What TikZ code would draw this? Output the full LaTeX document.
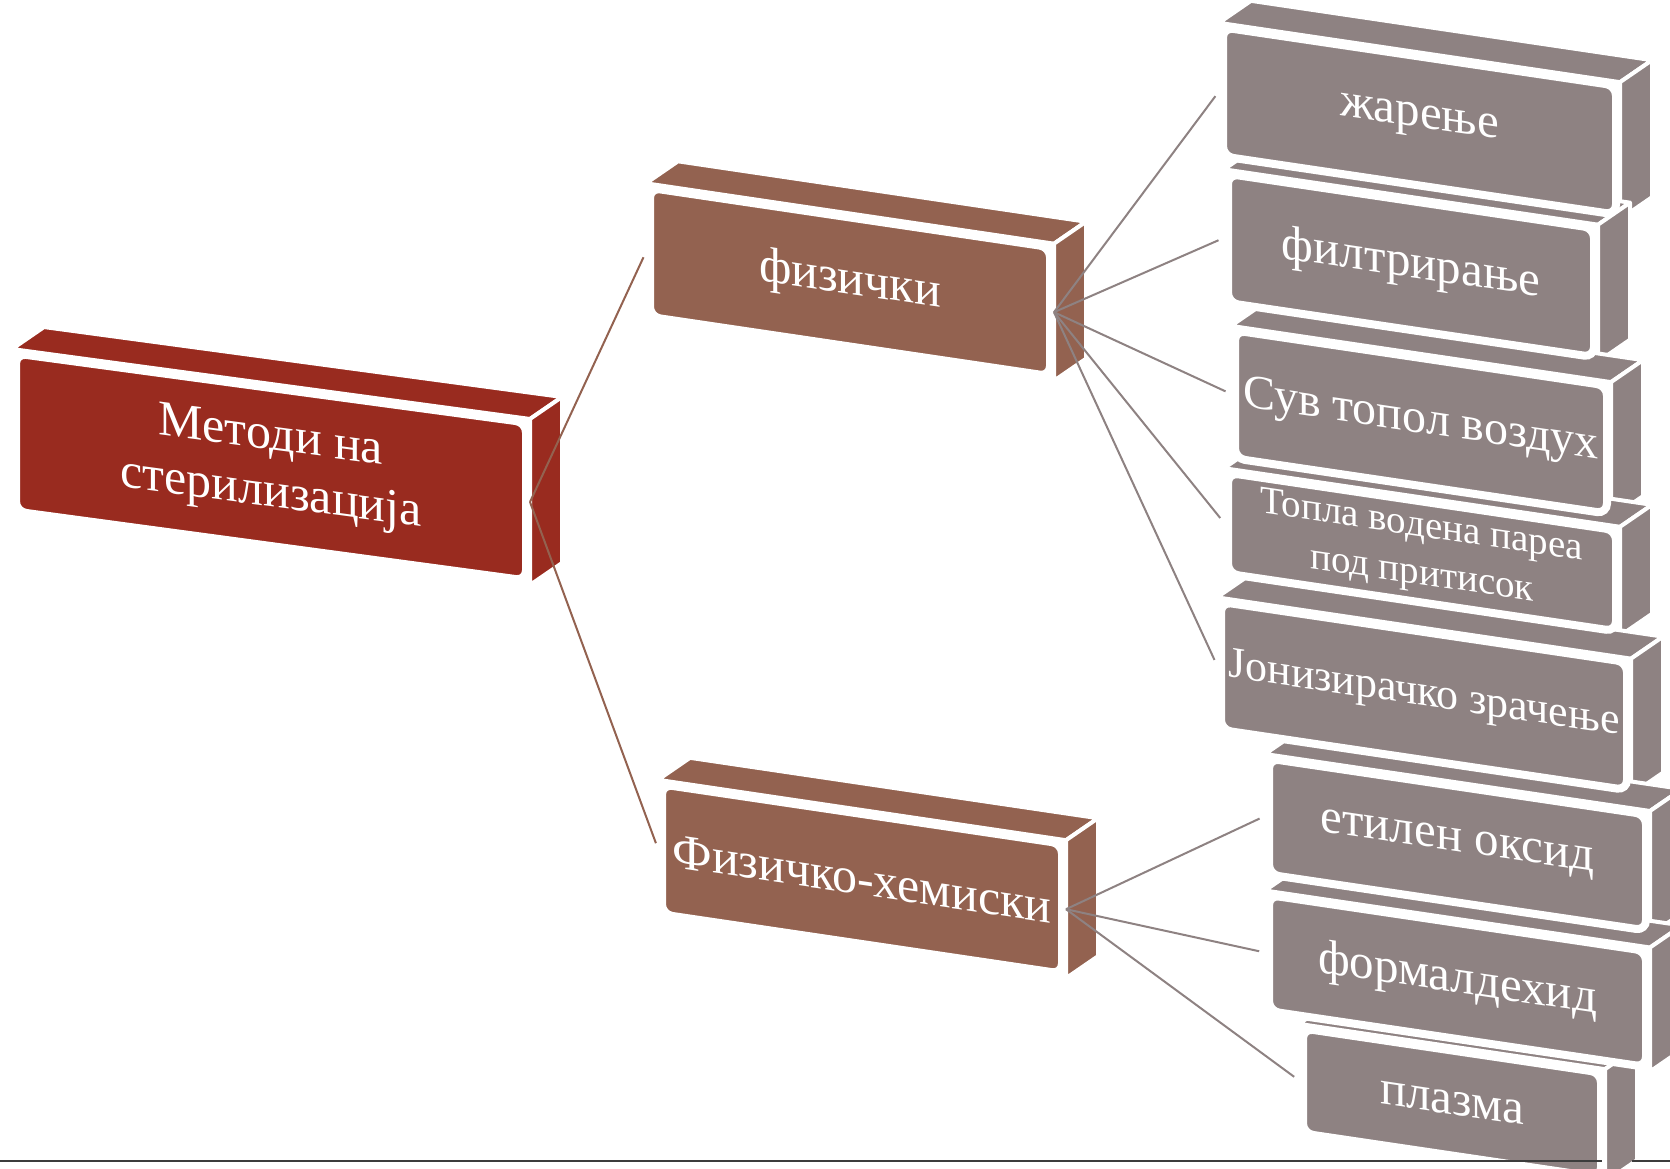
\documentclass[tikz,border=0pt]{standalone}
\usepackage{fontspec}
\setmainfont{Liberation Serif}
\usetikzlibrary{backgrounds, calc}
\definecolor{rootred}{RGB}{153,43,31}
\definecolor{levelbrown}{RGB}{147,98,80}
\definecolor{leafgrey}{RGB}{142,130,130}
\definecolor{ruleline}{RGB}{60,60,60}
\tikzset{
    front/.style={rectangle, rounded corners=5pt, draw=white, line width=4pt, text=white, inner sep=0pt, align=center},
    rootbox/.style={front, fill=rootred, yslant=-0.135, font=\fontsize{25}{28.5}\selectfont},
    midbox/.style={front, fill=levelbrown, yslant=-0.148, font=\fontsize{25}{30}\selectfont},
    leafbox/.style={front, fill=leafgrey, yslant=-0.148, font=\fontsize{24.5}{30}\selectfont},
    face/.style={draw=white, line width=2pt, line join=round},
    stemline/.style={draw=levelbrown, line width=1pt, shorten >=3pt},
    leafline/.style={draw=leafgrey, line width=1pt, shorten >=3pt},
}

\begin{document}
\begin{tikzpicture}[x=0.5pt, y=-0.5pt]
    \useasboundingbox (0,0) rectangle (1670,1168);

    % Nodes
    \node[rootbox, minimum width=255pt, minimum height=79pt] (root) at (271,467) {Методи на\\стерилизација};
    \node[midbox, minimum width=200pt, minimum height=64.5pt] (phys) at (850,282) {физички};
    \node[midbox, minimum width=200pt, minimum height=65pt] (chem) at (862,879) {Физичко-хемиски};

    \node[leafbox, minimum width=196.5pt, minimum height=64.5pt] (zar) at (1419.5,121) {жарење};
    \node[leafbox, minimum width=183pt, minimum height=64.5pt] (filt) at (1411,265.5) {филтрирање};
    \node[leafbox, minimum width=186pt, minimum height=64pt, font=\fontsize{24}{30}\selectfont] (suv) at (1421,422) {Сув топол воздух};
    \node[leafbox, minimum width=194pt, minimum height=50.5pt, font=\fontsize{19.5}{24}\selectfont] (topla) at (1422,552) {Топла водена пареа\\под притисок};
    \node[leafbox, minimum width=203pt, minimum height=64pt, font=\fontsize{22}{26}\selectfont] (jon) at (1424,696) {Јонизирачко зрачење};
    \node[leafbox, minimum width=188.5pt, minimum height=58pt] (etil) at (1457.5,844.5) {етилен оксид};
    \node[leafbox, minimum width=188.5pt, minimum height=58pt] (form) at (1457.5,981) {формалдехид};
    \node[leafbox, minimum width=149pt, minimum height=52.5pt] (plaz) at (1452,1103) {плазма};

    % Depth faces
    \begin{pgfonlayer}{background}
        \foreach \n/\c in {root/rootred, phys/levelbrown, chem/levelbrown, zar/leafgrey, filt/leafgrey, suv/leafgrey, topla/leafgrey, jon/leafgrey, etil/leafgrey, form/leafgrey, plaz/leafgrey} {
            \path[face, fill=\c] (\n.north west) -- ($(\n.north west)+(32,-22)$) -- ($(\n.north east)+(32,-22)$) -- (\n.north east) -- cycle;
            \path[face, fill=\c] (\n.north east) -- ($(\n.north east)+(32,-22)$) -- ($(\n.south east)+(32,-22)$) -- (\n.south east) -- cycle;
        }
    \end{pgfonlayer}

    % Connectors
    \draw[stemline] (root.east) -- (phys.west);
    \draw[stemline] (root.east) -- (chem.west);
    \foreach \t in {zar, filt, suv, topla, jon}
        \draw[leafline] (phys.east) -- (\t.west);
    \foreach \t in {etil, form, plaz}
        \draw[leafline] (chem.east) -- (\t.west);

    % Slide rule
    \draw[ruleline, line width=1.2pt] (0,1161) -- (1602,1161);
    \draw[ruleline, line width=1.2pt] (1632,1161) -- (1670,1161);

\end{tikzpicture}
\end{document}
